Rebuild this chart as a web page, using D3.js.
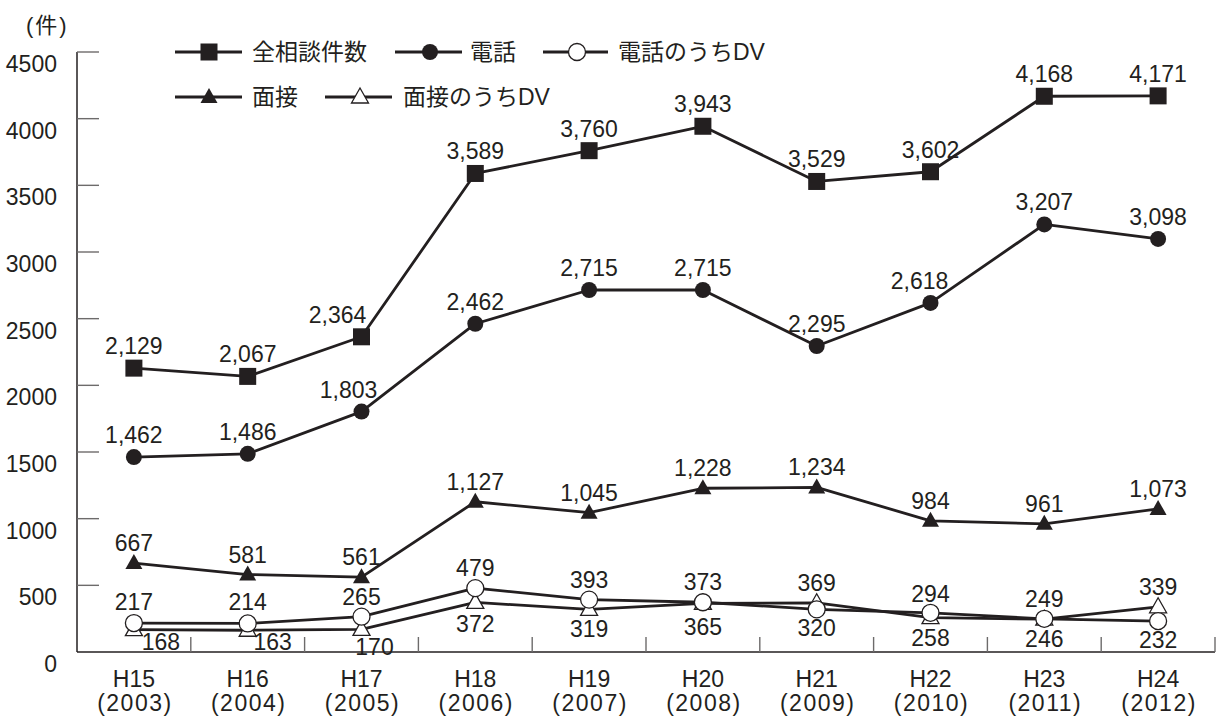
<!DOCTYPE html>
<html><head><meta charset="utf-8">
<script src="https://cdn.jsdelivr.net/npm/d3@7/dist/d3.min.js"></script>
<style>
html,body{margin:0;padding:0;background:#fff;}
svg{display:block;}
text{font-family:"Liberation Sans",Arial,"Noto Sans CJK JP",sans-serif;fill:#231f20;}
</style></head>
<body>
<svg id="chart" width="1220" height="716"></svg>
<script>
// ---- data ----
const categories = ["H15","H16","H17","H18","H19","H20","H21","H22","H23","H24"];
const years = ["2003","2004","2005","2006","2007","2008","2009","2010","2011","2012"];
const totalConsult = [2129,2067,2364,3589,3760,3943,3529,3602,4168,4171];
const phone = [1462,1486,1803,2462,2715,2715,2295,2618,3207,3098];
const phoneDV = [217,214,265,479,393,373,320,294,249,232];
const interview = [667,581,561,1127,1045,1228,1234,984,961,1073];
const interviewDV = [168,163,170,372,319,365,369,258,246,339];
const yTicks = [0,500,1000,1500,2000,2500,3000,3500,4000,4500];
const seriesNames = ["全相談件数","電話","電話のうちDV","面接","面接のうちDV"];

// ---- layout (label nudges, px) ----
const labelOffsets = {
  total: [[0,-14],[0,-14],[-24,-14],[0,-14],[0,-14],[0,-14],[0,-14],[0,-14],[0,-14],[0,-14]],
  phone: [[0,-14],[0,-14],[-13,-14],[0,-14],[0,-14],[0,-14],[0,-14],[-11,-14],[0,-14],[0,-14]],
  phoneDV: [[0,-13],[0,-13],[0,-12],[0,-12],[0,-12],[0,-12],[0,27],[0,-11],[0,-12],[0,27]],
  interview: [[0,-12],[0,-12],[0,-12],[0,-12],[0,-12],[0,-12],[0,-12],[0,-12],[0,-12],[0,-12]],
  interviewDV: [[27,20],[25,20],[13,26],[0,30],[0,28],[0,32],[0,-12],[0,28],[0,28],[0,-12]]
};

const svg = d3.select("#chart");
const ink = "#231f20";
const x = d3.scaleBand().domain(categories).range([77,1215]);
const y = d3.scaleLinear().domain([0,4500]).range([652,52]);
const cx = c => x(c) + x.bandwidth()/2;

// axes
const gy = svg.append("g");
gy.append("line").attr("x1",77).attr("x2",77).attr("y1",y(4500)).attr("y2",y(0))
  .attr("stroke",ink).attr("stroke-width",1.5);
gy.selectAll(".yt").data(yTicks.filter(d=>d>0)).join("line")
  .attr("x1",77).attr("x2",99).attr("y1",d=>y(d)).attr("y2",d=>y(d))
  .attr("stroke","#6d6b6b").attr("stroke-width",1.4);
gy.selectAll(".yl").data(yTicks).join("text")
  .attr("x",57).attr("y",d=>y(d)+20).attr("text-anchor","end")
  .style("font-size","23px").text(d=>d);
svg.append("text").attr("x",26).attr("y",33).style("font-size","22px")
  .style("letter-spacing","2px").text("(件)");

const gx = svg.append("g");
gx.append("line").attr("x1",77).attr("x2",1215).attr("y1",y(0)).attr("y2",y(0))
  .attr("stroke",ink).attr("stroke-width",1.6);
gx.selectAll(".xt").data(categories).join("line")
  .attr("x1",d=>x(d)+x.bandwidth()).attr("x2",d=>x(d)+x.bandwidth())
  .attr("y1",y(0)).attr("y2",y(0)-15)
  .attr("stroke","#6d6b6b").attr("stroke-width",1.4);
gx.selectAll(".xl").data(categories).join("text")
  .attr("x",d=>cx(d)).attr("y",687).attr("text-anchor","middle")
  .style("font-size","23px").text(d=>d);
gx.selectAll(".xy").data(years).join("text")
  .attr("x",(d,i)=>cx(categories[i])+1).attr("y",711).attr("text-anchor","middle")
  .style("font-size","23px").style("letter-spacing","1.5px").text(d=>"(" + d + ")");

// markers
function drawMarker(g, type, px, py){
  if(type==="square"){
    g.append("rect").attr("x",px-8.5).attr("y",py-8.5).attr("width",17).attr("height",17).attr("fill",ink);
  } else if(type==="circle"){
    g.append("circle").attr("cx",px).attr("cy",py).attr("r",8).attr("fill",ink);
  } else if(type==="ocircle"){
    g.append("circle").attr("cx",px).attr("cy",py).attr("r",8.5).attr("fill","#fff").attr("stroke",ink).attr("stroke-width",1.3);
  } else if(type==="tri"){
    g.append("path").attr("d",`M${px},${py-9}L${px+8.5},${py+6}L${px-8.5},${py+6}Z`).attr("fill",ink);
  } else if(type==="otri"){
    g.append("path").attr("d",`M${px},${py-9}L${px+8.5},${py+6}L${px-8.5},${py+6}Z`).attr("fill","#fff").attr("stroke",ink).attr("stroke-width",1.3);
  }
}

const series = [
  {key:"total", values:totalConsult, type:"square"},
  {key:"phone", values:phone, type:"circle"},
  {key:"interview", values:interview, type:"tri"},
  {key:"interviewDV", values:interviewDV, type:"otri"},
  {key:"phoneDV", values:phoneDV, type:"ocircle"}
];

const line = d3.line().x((d,i)=>cx(categories[i])).y(d=>y(d));
const gl = svg.append("g");
series.forEach(s=>{
  gl.append("path").attr("d",line(s.values)).attr("fill","none")
    .attr("stroke",ink).attr("stroke-width",2.8).attr("stroke-linejoin","round");
});
const gm = svg.append("g");
series.forEach(s=>{
  s.values.forEach((v,i)=>drawMarker(gm,s.type,cx(categories[i]),y(v)));
});
const gt = svg.append("g");
series.forEach(s=>{
  gt.selectAll(null).data(s.values).join("text")
    .attr("x",(d,i)=>cx(categories[i])+labelOffsets[s.key][i][0])
    .attr("y",(d,i)=>y(d)+labelOffsets[s.key][i][1])
    .attr("text-anchor","middle").style("font-size","23px")
    .text(d=>d3.format(",")(d));
});

// legend
const legendItems = [
  {name:seriesNames[0], type:"square", x1:175, x2:242, mx:209, y:52, tx:252},
  {name:seriesNames[1], type:"circle", x1:395, x2:462, mx:430, y:52, tx:470},
  {name:seriesNames[2], type:"ocircle", x1:543, x2:608, mx:577, y:52, tx:618},
  {name:seriesNames[3], type:"tri", x1:175, x2:242, mx:209, y:97, tx:252},
  {name:seriesNames[4], type:"otri", x1:325, x2:392, mx:360, y:97, tx:403}
];
const gleg = svg.append("g");
legendItems.forEach(l=>{
  gleg.append("line").attr("x1",l.x1).attr("x2",l.x2).attr("y1",l.y).attr("y2",l.y)
    .attr("stroke",ink).attr("stroke-width",2.8);
  drawMarker(gleg,l.type,l.mx,l.y);
  gleg.append("text").attr("x",l.tx).attr("y",l.y).attr("dominant-baseline","central")
    .style("font-size","23px").text(l.name);
});
</script>
</body></html>
